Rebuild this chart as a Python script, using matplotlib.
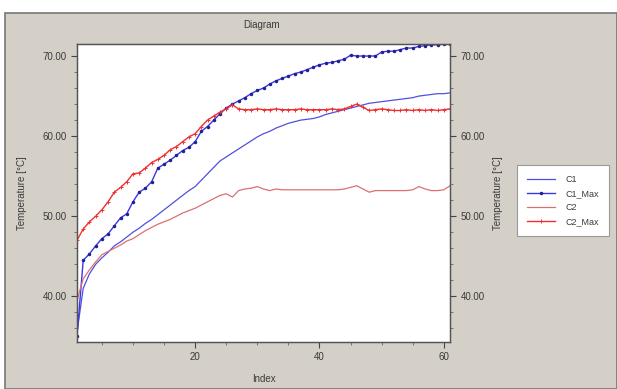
import numpy as np
import matplotlib.pyplot as plt
from matplotlib.patches import Rectangle
from matplotlib.ticker import MultipleLocator, FormatStrFormatter

plt.rcParams['font.family'] = ['Liberation Sans', 'DejaVu Sans']

# data
index = np.arange(1, 62)

c1 = [35.5, 41.0, 42.8, 44.0, 44.8, 45.5, 46.3, 46.8, 47.4, 48.0,
      48.5, 49.1, 49.6, 50.2, 50.8, 51.4, 52.0, 52.6, 53.2, 53.7,
      54.5, 55.3, 56.1, 56.9, 57.4, 57.9, 58.4, 58.9, 59.4, 59.9,
      60.3, 60.6, 61.0, 61.3, 61.6, 61.8, 62.0, 62.1, 62.2, 62.4,
      62.7, 62.9, 63.1, 63.3, 63.5, 63.7, 63.9, 64.1, 64.2, 64.3,
      64.4, 64.5, 64.6, 64.7, 64.8, 65.0, 65.1, 65.2, 65.3, 65.3, 65.4]

c1_max = [35.0, 44.5, 45.3, 46.3, 47.2, 47.8, 48.8, 49.8, 50.3, 51.8,
          53.0, 53.5, 54.3, 56.0, 56.5, 57.0, 57.6, 58.2, 58.6, 59.3,
          60.6, 61.2, 62.0, 62.8, 63.5, 64.0, 64.4, 64.8, 65.3, 65.7,
          66.0, 66.5, 66.9, 67.2, 67.5, 67.8, 68.0, 68.3, 68.6, 68.9,
          69.1, 69.2, 69.4, 69.6, 70.1, 70.0, 70.0, 70.0, 70.0, 70.5,
          70.6, 70.6, 70.8, 71.0, 71.0, 71.2, 71.3, 71.4, 71.4, 71.5, 71.5]

c2 = [39.5, 42.2, 43.3, 44.3, 45.2, 45.6, 46.0, 46.4, 46.9, 47.2,
      47.7, 48.2, 48.6, 49.0, 49.3, 49.6, 50.0, 50.4, 50.7, 51.0,
      51.4, 51.8, 52.2, 52.6, 52.8, 52.4, 53.2, 53.4, 53.5, 53.7,
      53.4, 53.2, 53.4, 53.3, 53.3, 53.3, 53.3, 53.3, 53.3, 53.3,
      53.3, 53.3, 53.3, 53.4, 53.6, 53.8, 53.4, 53.0, 53.2, 53.2,
      53.2, 53.2, 53.2, 53.2, 53.3, 53.7, 53.4, 53.2, 53.2, 53.3, 53.8]

c2_max = [47.0, 48.4, 49.3, 50.0, 50.8, 51.8, 53.0, 53.6, 54.3, 55.3,
          55.4, 56.0, 56.7, 57.1, 57.6, 58.3, 58.7, 59.3, 59.9, 60.3,
          61.2, 62.0, 62.5, 63.0, 63.4, 63.9, 63.4, 63.3, 63.3, 63.4,
          63.3, 63.3, 63.4, 63.3, 63.3, 63.3, 63.4, 63.3, 63.3, 63.3,
          63.3, 63.4, 63.3, 63.4, 63.7, 64.0, 63.6, 63.2, 63.3, 63.4,
          63.3, 63.2, 63.2, 63.3, 63.2, 63.3, 63.2, 63.3, 63.2, 63.3, 63.4]

grey = '#d4d0c8'
txt = '#3a3a3a'

fig = plt.figure(figsize=(6.17, 3.89), dpi=100, facecolor='white')
fig.patches.append(Rectangle((5/617, 0), 1 - 5/617, 1 - 13/389, transform=fig.transFigure,
                             facecolor=grey, edgecolor='#777777', linewidth=1.2, zorder=-10))
fig.text(262/617, 1 - 25/389, 'Diagram', ha='center', va='center', fontsize=7, color=txt)

ax = fig.add_axes([77/617, 47/389, 373/617, 298/389])
ax.set_facecolor('white')

ax.plot(index, c1, color='#5050e0', lw=0.9, label='C1')
ax.plot(index, c1_max, color='#3838e8', lw=1.0, marker='.', ms=3, mfc='#202090', mec='#202090', label='C1_Max')
ax.plot(index, c2, color='#dc7070', lw=0.9, label='C2')
ax.plot(index, c2_max, color='#f03030', lw=1.0, marker='+', ms=3, mew=0.7, label='C2_Max')

ax.set_xlim(1, 61)
ax.set_ylim(34.3, 71.5)
ax.xaxis.set_major_locator(MultipleLocator(20))
ax.xaxis.set_minor_locator(MultipleLocator(5))
ax.yaxis.set_major_locator(MultipleLocator(10))
ax.yaxis.set_minor_locator(MultipleLocator(2))
ax.yaxis.set_major_formatter(FormatStrFormatter('%.2f'))

ax.set_xlabel('Index', fontsize=7, color=txt, labelpad=8)
ax.set_ylabel('Temperature [°C]', fontsize=7, color=txt, labelpad=11)
ax.tick_params(which='major', length=4, width=0.8, labelsize=7, colors='#444444', labelcolor=txt)
ax.tick_params(which='minor', length=2.5, width=0.6, colors='#666666')
for s in ax.spines.values():
    s.set_color('#555555')
    s.set_linewidth(1.0)

ax2 = ax.twinx()
ax2.set_ylim(ax.get_ylim())
ax2.yaxis.set_major_locator(MultipleLocator(10))
ax2.yaxis.set_minor_locator(MultipleLocator(2))
ax2.yaxis.set_major_formatter(FormatStrFormatter('%.2f'))
ax2.set_ylabel('Temperature [°C]', fontsize=7, color=txt, labelpad=6)
ax2.tick_params(which='major', length=4, width=0.8, labelsize=7, colors='#444444', labelcolor=txt)
ax2.tick_params(which='minor', length=2.5, width=0.6, colors='#666666')
for s in ax2.spines.values():
    s.set_color('#555555')

leg = ax.legend(loc='upper left', bbox_to_anchor=(517/617, 1 - 165/389), bbox_transform=fig.transFigure,
                fontsize=6.5, frameon=True, fancybox=False, borderpad=1.1, handlelength=3.1,
                labelspacing=0.55, handletextpad=1.2, borderaxespad=0, framealpha=1)
leg.get_frame().set_facecolor('white')
leg.get_frame().set_edgecolor('#999999')
leg.get_frame().set_linewidth(0.8)
for t in leg.get_texts():
    t.set_color(txt)

plt.savefig('out.png', dpi=100, facecolor=fig.get_facecolor())
